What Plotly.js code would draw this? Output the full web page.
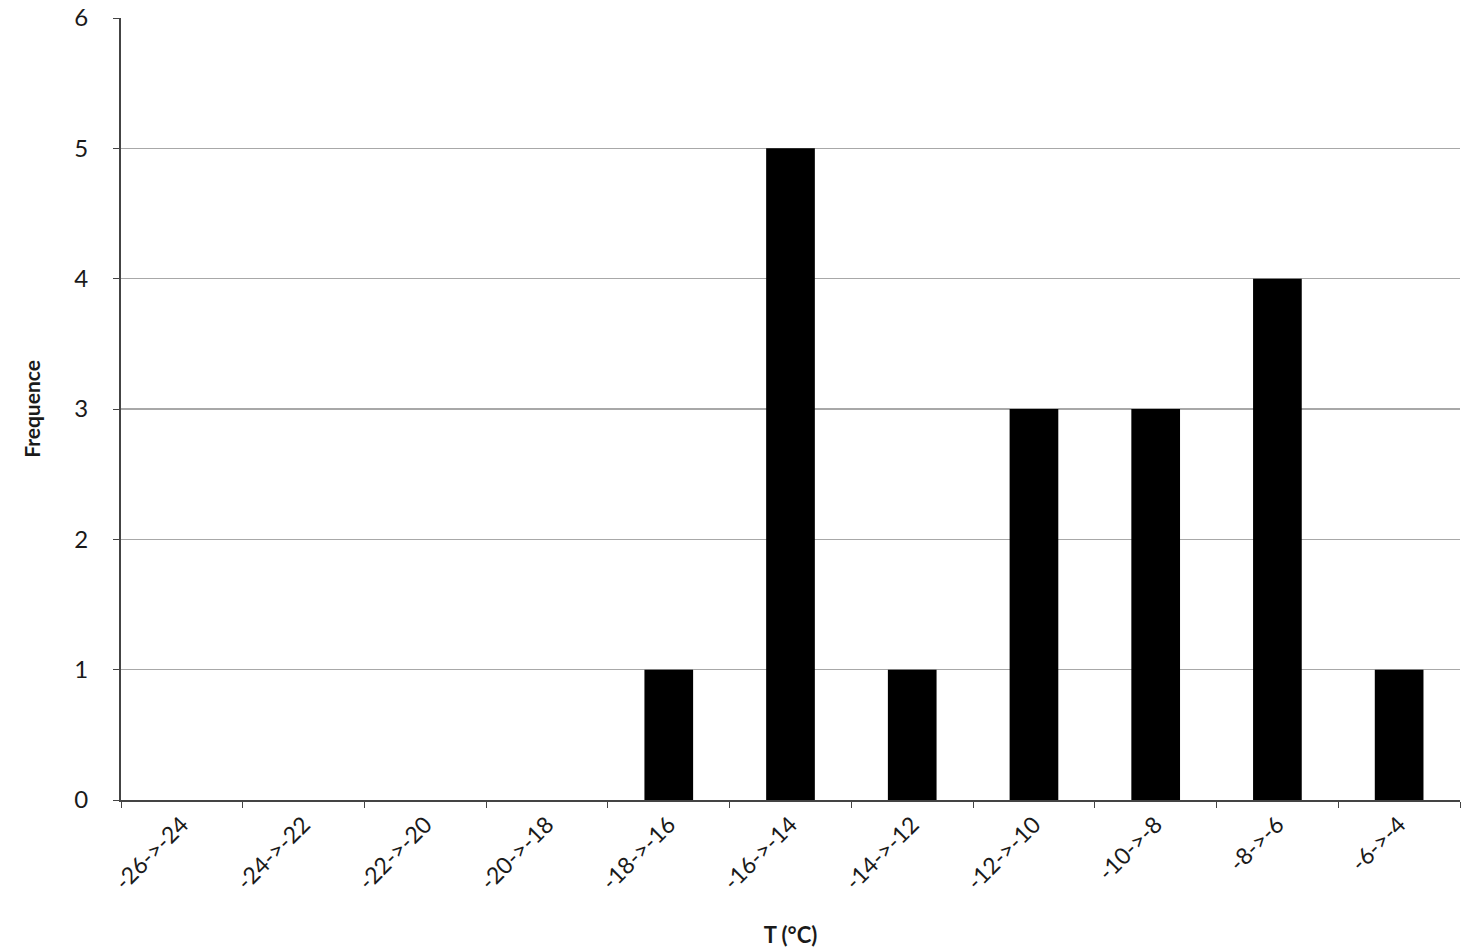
<!DOCTYPE html>
<html>
<head>
<meta charset="utf-8">
<script src="https://cdn.plot.ly/plotly-3.0.1.min.js"></script>
<style>
  html, body { margin: 0; padding: 0; background: #fff; }
  #chart { width: 1481px; height: 949px; }
</style>
</head>
<body>
<div id="chart"></div>
<script>
// temperature bins and counts
var bins = ["-26->-24", "-24->-22", "-22->-20", "-20->-18", "-18->-16", "-16->-14",
            "-14->-12", "-12->-10", "-10->-8", "-8->-6", "-6->-4"];
var counts = [0, 0, 0, 0, 1, 5, 1, 3, 3, 4, 1];
var yTicks = [0, 1, 2, 3, 4, 5, 6];

var trace1 = {
  x: bins,
  y: counts,
  type: 'bar',
  marker: {color: '#000000', line: {width: 0}},
  hoverinfo: 'x+y'
};

var layout = {
  width: 1481,
  height: 949,
  margin: {l: 121, r: 21, t: 18, b: 149},
  paper_bgcolor: '#ffffff',
  plot_bgcolor: '#ffffff',
  font: {family: 'Lato, Open Sans, Liberation Sans, sans-serif', color: '#1a1a1a', size: 20},
  showlegend: false,
  bargap: 0.6,
  xaxis: {
    type: 'category',
    tickson: 'boundaries',
    ticks: 'outside',
    ticklen: 6,
    tickcolor: '#444',
    tickangle: -45,
    showline: true,
    linecolor: '#444',
    linewidth: 2,
    showgrid: false,
    tickfont: {size: 23},
    title: {text: '<b>T (°C)</b>', font: {size: 22}, standoff: 34}
  },
  yaxis: {
    range: [0, 6],
    tickvals: yTicks,
    ticks: 'outside',
    ticklen: 6,
    tickcolor: '#444',
    showline: true,
    linecolor: '#444',
    linewidth: 2,
    gridcolor: '#a8a8a8',
    gridwidth: 1.5,
    zeroline: false,
    tickfont: {size: 24},
    ticklabelstandoff: 20,
    title: {text: '<b>Frequence</b>', font: {size: 21}, standoff: 28}
  }
};

Plotly.newPlot('chart', [trace1], layout, {displayModeBar: false, staticPlot: true});
</script>
</body>
</html>
